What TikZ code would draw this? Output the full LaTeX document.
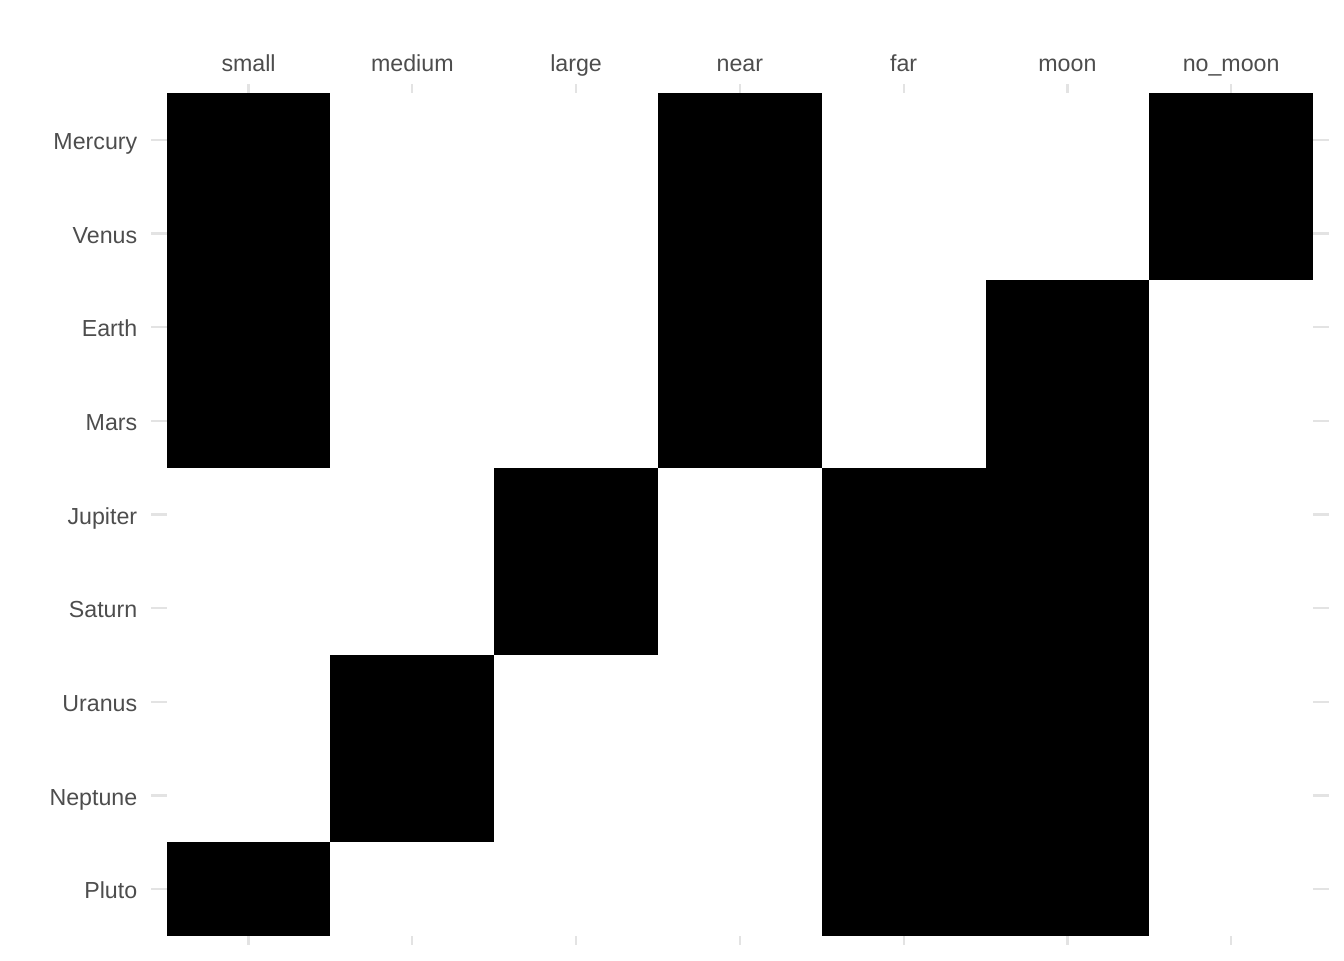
\documentclass[tikz,border=0pt]{standalone}
\usepackage{fontspec}
\setmainfont{Liberation Sans}
\definecolor{axtext}{HTML}{4D4D4D}
\definecolor{tickc}{HTML}{E3E3E3}
\begin{document}
\begin{tikzpicture}[x=0.75pt,y=-0.75pt,
  lab/.style={text=axtext,font=\fontsize{17.4}{20}\selectfont,inner sep=0pt},
  tk/.style={draw=tickc,line width=1.7pt},
  cell/.style={fill=black}]
\useasboundingbox (0,0) rectangle (1344,960);
\def\xl{166.7}\def\cw{163.76}\def\yt{93}\def\rh{93.67}
% column labels and ticks
\foreach \n [count=\i] in {small,medium,large,near,far,moon,no\_moon}{
  \pgfmathsetmacro{\cx}{\xl+(\i-0.5)*\cw}
  \node[lab,anchor=base] (c\i) at (\cx,71.5) {\n};
  \draw[tk] (\cx,84) -- (\cx,93);
  \draw[tk] (\cx,936) -- (\cx,945);
}
% row labels and ticks
\foreach \n [count=\j] in {Mercury,Venus,Earth,Mars,Jupiter,Saturn,Uranus,Neptune,Pluto}{
  \pgfmathsetmacro{\cy}{\yt+(\j-0.5)*\rh}
  \node[lab,anchor=base east] (r\j) at (137.5,\cy+9.5) {\n};
  \draw[tk] (151,\cy) -- (166.7,\cy);
  \draw[tk] (1313,\cy) -- (1329,\cy);
}
% cells: (col, firstrow, lastrow)
\foreach \c/\a/\b in {1/1/4,1/9/9,2/7/8,3/5/6,4/1/4,5/5/9,6/3/9,7/1/2}{
  \fill[cell] ({\xl+(\c-1)*\cw},{\yt+(\a-1)*\rh}) rectangle ({\xl+\c*\cw},{\yt+\b*\rh});
}
\end{tikzpicture}
\end{document}
